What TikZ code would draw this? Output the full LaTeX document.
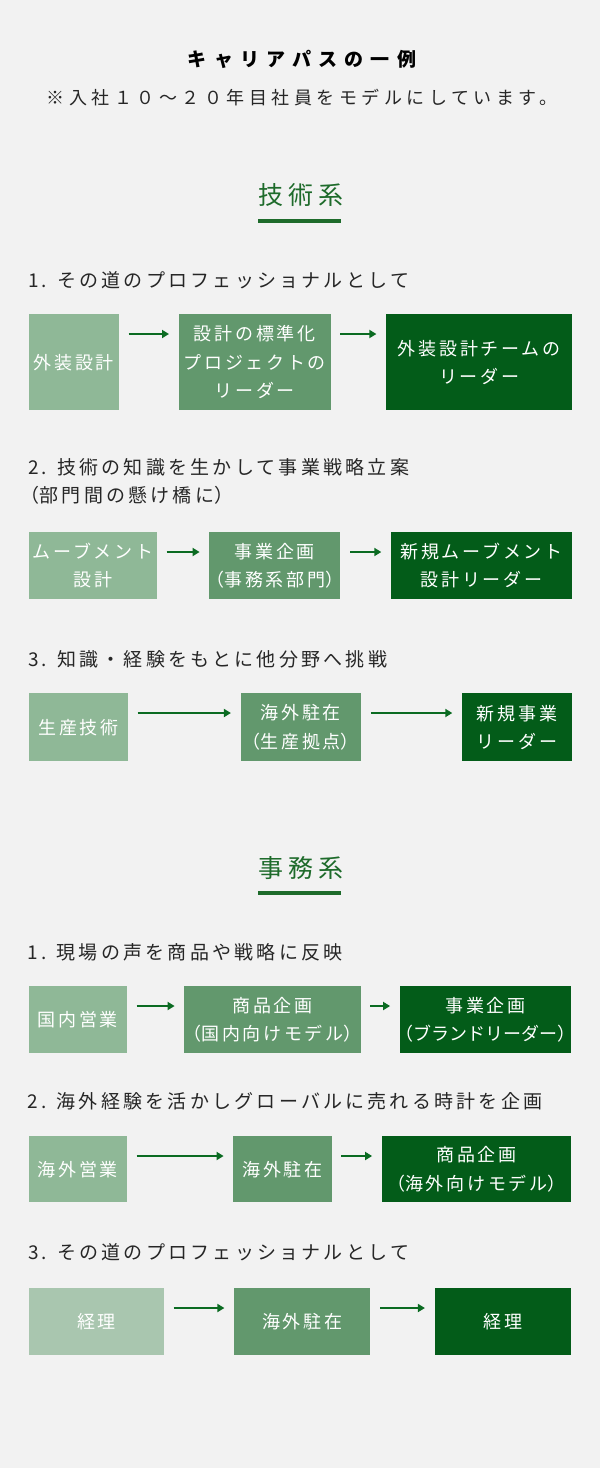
\documentclass[tikz,border=0pt]{standalone}
\usepackage{fontspec}
\setmainfont{Noto Sans CJK JP}[LetterSpace=15]
\newfontfamily\headfont{Noto Sans CJK JP}[LetterSpace=17]
\newfontfamily\notefont{Noto Sans CJK JP}[LetterSpace=25]
\newfontfamily\bigfont{Noto Sans CJK JP}[LetterSpace=38]
\newfontfamily\secfont{Noto Sans CJK JP}[LetterSpace=20]
\newfontfamily\tightfont{Noto Sans CJK JP}[LetterSpace=0]
\usetikzlibrary{arrows.meta,positioning}

% narrow full-width brackets
\newcommand\kakkoL{\makebox[0.6em][r]{（}}
\newcommand\kakkoR{\makebox[0.6em][l]{）}}

\definecolor{pagebg}{HTML}{F2F2F2}
\definecolor{boxlight}{HTML}{8FB897}
\definecolor{boxpale}{HTML}{A9C6AF}
\definecolor{boxmid}{HTML}{62986D}
\definecolor{boxdark}{HTML}{035C19}
\definecolor{arrowgreen}{HTML}{0B6B22}
\definecolor{headgreen}{HTML}{1E6B2B}
\definecolor{inkgray}{HTML}{262626}

\begin{document}
\begin{tikzpicture}[x=1pt,y=-1pt,>={Triangle[length=7pt,width=8pt]},
pathbox/.style={anchor=north west, inner sep=0pt, text=white, align=center,
  font=\fontsize{18pt}{28.3pt}\selectfont},
lightbox/.style={pathbox, fill=boxlight},
palebox/.style={pathbox, fill=boxpale},
midbox/.style={pathbox, fill=boxmid},
darkbox/.style={pathbox, fill=boxdark},
steptitle/.style={anchor=west, inner sep=0pt, text=inkgray,
  font=\headfont\fontsize{19pt}{28pt}\selectfont, align=left},
sectitle/.style={inner sep=0pt, text=headgreen, font=\secfont\fontsize{25pt}{30pt}\selectfont},
flow/.style={->, draw=arrowgreen, line width=2pt, shorten <=9.5pt, shorten >=9.5pt},
]
\fill[pagebg] (0,0) rectangle (600,1468);
\useasboundingbox (0,0) rectangle (600,1468);

% Title
\node[inner sep=0pt, text=black, font=\bigfont\bfseries\fontsize{19pt}{24pt}\selectfont] (title) at (302,59) {キャリアパスの一例};
\node[inner sep=0pt, text=inkgray, font=\notefont\fontsize{18pt}{24pt}\selectfont] (note) at (302,98) {※入社１０～２０年目社員をモデルにしています。};

% Technical
\node[sectitle] (tech) at (301,195) {技術系};
\fill[headgreen] (257.5,219.3) rectangle (340.5,222.7);

\node[steptitle] (techA) at (28,280) {1. その道のプロフェッショナルとして};
\node[lightbox, minimum width=90pt, minimum height=96pt] (a1) at (28.7,314) {外装設計};
\node[midbox, minimum width=152pt, minimum height=96pt, right=59.4pt of a1] (a2) {設計の標準化\\プロジェクトの\\リーダー};
\node[darkbox, minimum width=186pt, minimum height=96pt, right=55pt of a2] (a3) {外装設計チームの\\リーダー};

\node[steptitle] (techB) at (28,481) {2. 技術の知識を生かして事業戦略立案\\\kakkoL 部門間の懸け橋に\kakkoR};
\node[lightbox, minimum width=128pt, minimum height=67pt] (b1) at (28.7,532) {ムーブメント\\設計};
\node[midbox, minimum width=131pt, minimum height=67pt, right=52pt of b1] (b2) {事業企画\\\kakkoL 事務系部門\kakkoR};
\node[darkbox, minimum width=181pt, minimum height=67pt, right=50.3pt of b2] (b3) {新規ムーブメント\\設計リーダー};

\node[steptitle] (techC) at (28,659) {3. 知識・経験をもとに他分野へ挑戦};
\node[lightbox, minimum width=99pt, minimum height=68pt] (c1) at (28.7,693) {生産技術};
\node[midbox, minimum width=120.5pt, minimum height=68pt, right=112.3pt of c1] (c2) {海外駐在\\\kakkoL 生産拠点\kakkoR};
\node[darkbox, minimum width=110pt, minimum height=68pt, right=100.5pt of c2] (c3) {新規事業\\リーダー};

% Office
\node[sectitle] (office) at (301,868) {事務系};
\fill[headgreen] (257.5,891.3) rectangle (340.5,894.7);

\node[steptitle] (officeA) at (27.5,952) {1. 現場の声を商品や戦略に反映};
\node[lightbox, minimum width=98pt, minimum height=67pt] (d1) at (28.7,986) {国内営業};
\node[midbox, minimum width=176.3pt, minimum height=67pt, right=57pt of d1] (d2) {商品企画\\\kakkoL 国内向けモデル\kakkoR};
\node[darkbox, minimum width=171.2pt, minimum height=67pt, right=38.8pt of d2] (d3) {事業企画\\{\tightfont\kakkoL ブランドリーダー\kakkoR}};

\node[steptitle] (officeB) at (27.5,1101) {2. 海外経験を活かしグローバルに売れる時計を企画};
\node[lightbox, minimum width=98pt, minimum height=66pt] (e1) at (28.7,1136) {海外営業};
\node[midbox, minimum width=98.3pt, minimum height=66pt, right=106pt of e1] (e2) {海外駐在};
\node[darkbox, minimum width=189.2pt, minimum height=66pt, right=49.8pt of e2] (e3) {商品企画\\\kakkoL 海外向けモデル\kakkoR};

\node[steptitle] (officeC) at (28,1252) {3. その道のプロフェッショナルとして};
\node[palebox, minimum width=135pt, minimum height=67pt] (f1) at (28.7,1288) {経理};
\node[midbox, minimum width=136.2pt, minimum height=67pt, right=69.8pt of f1] (f2) {海外駐在};
\node[darkbox, minimum width=136.4pt, minimum height=67pt, right=63.9pt of f2] (f3) {経理};

% Arrows
\foreach \p/\q in {a1/a2,a2/a3,b1/b2,b2/b3,c1/c2,c2/c3,d1/d2,d2/d3,e1/e2,e2/e3,f1/f2,f2/f3}
  \draw[flow] ([yshift=-20pt]\p.north east) -- ([yshift=-20pt]\q.north west);

\end{tikzpicture}
\end{document}
